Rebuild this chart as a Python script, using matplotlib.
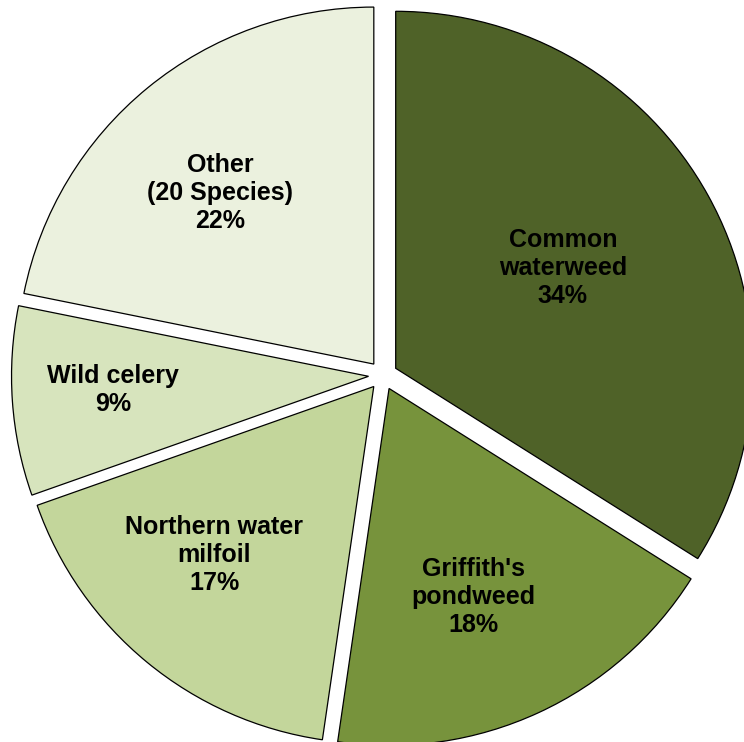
import matplotlib.pyplot as plt
import numpy as np

plt.rcParams['font.family'] = ['Liberation Sans', 'DejaVu Sans']

names = ['Common\nwaterweed', "Griffith's\npondweed", 'Northern water\nmilfoil',
         'Wild celery', 'Other\n(20 Species)']
shares = [33.95, 18.35, 17.3, 8.57, 21.83]
colors = ['#4F6228', '#77933C', '#C3D69B', '#D7E4BD', '#EBF1DE']

# label placement, as fraction of radius from the exploded slice centre
label_dist = [0.546, 0.63, 0.65, 0.717, 0.644]
label_shift = [2, -2.8, -4, -1, 2.7]  # degrees

fig = plt.figure(figsize=(7.44, 7.42), dpi=100)
ax = fig.add_axes([0, 0, 1, 1])

R = 357
wedges, texts = ax.pie(shares, colors=colors, startangle=90, counterclock=False,
                       radius=R, center=(383, 366.7), explode=[14.5] * len(shares),
                       labels=[''] * len(shares),
                       wedgeprops=dict(edgecolor='black', linewidth=0.9))

for w, name, share, d, s in zip(wedges, names, shares, label_dist, label_shift):
    mid = np.deg2rad((w.theta1 + w.theta2) / 2 + s)
    cx, cy = w.center
    ax.text(cx + d * R * np.cos(mid), cy + d * R * np.sin(mid),
            '%s\n%.0f%%' % (name, share), ha='center', va='center',
            fontsize=18, fontweight='bold', linespacing=1.22)

ax.set_xlim(0, 744)
ax.set_ylim(0, 742)
ax.axis('off')

fig.savefig('out.png', dpi=100, facecolor='white')
